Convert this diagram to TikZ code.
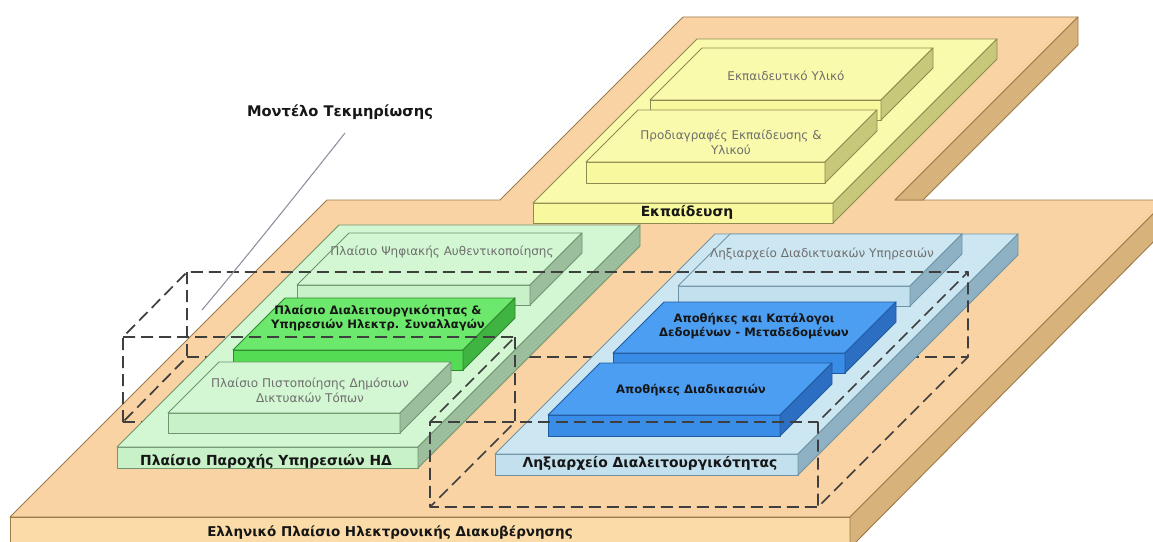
\documentclass[tikz,border=0pt]{standalone}
\usepackage{fontspec}
\setmainfont{DejaVu Sans}
\definecolor{basetop}{HTML}{F9D3A3}
\definecolor{basefront}{HTML}{FBDCA8}
\definecolor{baseside}{HTML}{D7B27A}
\definecolor{baseline}{HTML}{9C7A4A}
\definecolor{yeltop}{HTML}{FAFAAC}
\definecolor{yelfront}{HTML}{F8F89E}
\definecolor{yelside}{HTML}{C8C87A}
\definecolor{yelline}{HTML}{8C8C50}
\definecolor{pgtop}{HTML}{D3F6D3}
\definecolor{pgfront}{HTML}{C8F1C8}
\definecolor{pgside}{HTML}{9DBE9D}
\definecolor{pgline}{HTML}{6E956E}
\definecolor{bgtop}{HTML}{6CE86C}
\definecolor{bgfront}{HTML}{55DC55}
\definecolor{bgside}{HTML}{40B440}
\definecolor{bgline}{HTML}{2E862E}
\definecolor{pbtop}{HTML}{CDE7F2}
\definecolor{pbfront}{HTML}{C2E0ED}
\definecolor{pbside}{HTML}{8EB2C3}
\definecolor{pbline}{HTML}{6E93A6}
\definecolor{bbtop}{HTML}{4C9EF2}
\definecolor{bbfront}{HTML}{3A8DE6}
\definecolor{bbside}{HTML}{2C6EC2}
\definecolor{bbline}{HTML}{1F5A9E}
\definecolor{greytext}{HTML}{6E6E6E}
\definecolor{darktext}{HTML}{161616}
\definecolor{dashcol}{HTML}{3F3F3F}
\definecolor{pointer}{HTML}{8E8E9E}
% slab: x1, x2, front-top y, depth, thickness, colour prefix
\newcommand{\myslab}[6]{%
  \fill[#6front, draw=#6line, line width=0.7pt] (#1,#3) rectangle (#2,#3+#5);
  \fill[#6top, draw=#6line, line width=0.7pt] (#1,#3) -- (#2,#3) -- (#2+#4,#3-#4) -- (#1+#4,#3-#4) -- cycle;
  \fill[#6side, draw=#6line, line width=0.7pt] (#2,#3) -- (#2+#4,#3-#4) -- (#2+#4,#3-#4+#5) -- (#2,#3+#5) -- cycle;
}
\tikzset{
  dashbox/.style={draw=dashcol, line width=1.3pt, dash pattern=on 9pt off 4.5pt},
  smalltxt/.style={text=greytext, font=\fontsize{9}{11}\selectfont, align=center, inner sep=0pt},
  boldsmall/.style={text=darktext, font=\fontsize{8.7}{10.6}\selectfont\bfseries, align=center, inner sep=0pt},
  biglabel/.style={text=darktext, font=\fontsize{10.4}{12}\selectfont\bfseries, inner sep=0pt}
}
\begin{document}
\begin{tikzpicture}[x=0.75pt,y=-0.75pt,line join=round]
\useasboundingbox (0,0) rectangle (1153,542);
\begin{scope}
\clip (0,0) rectangle (1153,542);
% ---- base platform
\fill[basetop, draw=baseline, line width=0.7pt] (10,517) -- (327,200) -- (500,200) -- (683,17) -- (1078,17) -- (895,200) -- (1167,200) -- (850,517) -- cycle;
\fill[basefront, draw=baseline, line width=0.7pt] (10,517) rectangle (850,548);
\fill[baseside, draw=baseline, line width=0.7pt] (1078,17) -- (1078,45) -- (923,200) -- (895,200) -- cycle;
\fill[baseside, draw=baseline, line width=0.7pt] (850,517) -- (1167,200) -- (1167,228) -- (850,548) -- cycle;
\end{scope}
% ---- dashed model box corners
\coordinate (bTL) at (187,272);
\coordinate (bBL) at (187,357);
\coordinate (fTL) at (123,337);
\coordinate (fBL) at (123,422);
\coordinate (bTR) at (968,272);
\coordinate (bBR) at (968,357);
\coordinate (sTL) at (515,337);
\coordinate (sBL) at (515,422);
\coordinate (gTL) at (430,422);
\coordinate (gBL) at (430,507);
\coordinate (gTR) at (818,422);
\coordinate (gBR) at (818,507);
% hidden (behind slabs) edges
\draw[dashbox] (bBL) -- (bBR);
\draw[dashbox] (fBL) -- (gTL);
% ---- yellow: Εκπαίδευση
\myslab{533}{833}{203}{164}{20}{yel}
\myslab{650}{881}{100}{52}{20}{yel}
\myslab{586}{825}{162}{52}{21}{yel}
% ---- green
\myslab{117}{418}{447}{222}{21}{pg}
\myslab{297}{530}{285}{52}{20}{pg}
\myslab{233}{463}{350}{52}{20}{bg}
\myslab{168}{400}{413}{51}{20}{pg}
% ---- blue
\myslab{495}{798}{454}{220}{21}{pb}
\myslab{678}{910}{286}{52}{20}{pb}
\myslab{613}{845}{353}{51}{20}{bb}
\myslab{548}{780}{415}{52}{21}{bb}
% ---- visible dashed edges
\draw[dashbox] (fBL) -- (fTL) -- (bTL) -- (bTR);
\draw[dashbox] (bTL) -- (bBL) -- (fBL);
\draw[dashbox] (fTL) -- (sTL) -- (gTL) -- (gBL) -- (gBR) -- (bBR) -- (bTR) -- (gTR) -- (gBR);
\draw[dashbox] (gTL) -- (gTR);
\draw[dashbox] (sTL) -- (sBL) -- (gBL);
% ---- labels
\node[biglabel, font=\fontsize{11}{13}\selectfont\bfseries] (model) at (340,112) {Μοντέλο Τεκμηρίωσης};
\coordinate (pend) at (202,310);
\draw[pointer, line width=0.8pt] (345,133) .. controls (300,190) and (240,265) .. (pend);
\node[smalltxt] (edmat) at (786,76) {Εκπαιδευτικό Υλικό};
\node[smalltxt] (edspec) at (731,142) {Προδιαγραφές Εκπαίδευσης \&\\Υλικού};
\node[biglabel] (ed) at (687,212) {Εκπαίδευση};
\node[smalltxt] (auth) at (442,252) {Πλαίσιο Ψηφιακής Αυθεντικοποίησης};
\node[boldsmall] (interop) at (378,318) {Πλαίσιο Διαλειτουργικότητας \&\\Υπηρεσιών Ηλεκτρ. Συναλλαγών};
\node[smalltxt] (cert) at (310,390) {Πλαίσιο Πιστοποίησης Δημόσιων\\Δικτυακών Τόπων};
\node[biglabel] (serv) at (266,461) {Πλαίσιο Παροχής Υπηρεσιών ΗΔ};
\node[smalltxt] (wsreg) at (822,254) {Ληξιαρχείο Διαδικτυακών Υπηρεσιών};
\node[boldsmall] (store) at (754,326) {Αποθήκες και Κατάλογοι\\Δεδομένων - Μεταδεδομένων};
\node[boldsmall] (proc) at (691,390) {Αποθήκες Διαδικασιών};
\node[biglabel] (ireg) at (650,463) {Ληξιαρχείο Διαλειτουργικότητας};
\node[biglabel, font=\fontsize{10.1}{12}\selectfont\bfseries] (gov) at (390,533) {Ελληνικό Πλαίσιο Ηλεκτρονικής Διακυβέρνησης};
\end{tikzpicture}
\end{document}
